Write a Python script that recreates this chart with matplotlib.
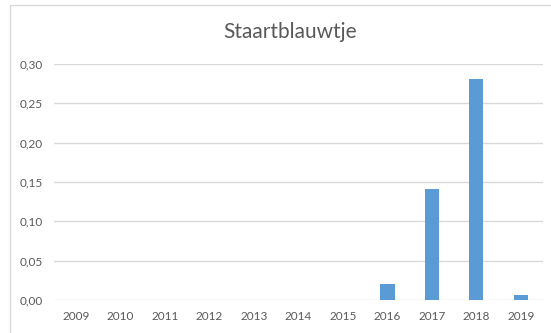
import matplotlib
matplotlib.use("Agg")
import matplotlib.pyplot as plt
from matplotlib.patches import Rectangle

years = ["2009", "2010", "2011", "2012", "2013", "2014", "2015", "2016", "2017", "2018", "2019"]
values = [0, 0, 0, 0, 0, 0, 0, 0.02, 0.141, 0.281, 0.006]
yticks = [0.00, 0.05, 0.10, 0.15, 0.20, 0.25, 0.30]
ytick_labels = ["0,00", "0,05", "0,10", "0,15", "0,20", "0,25", "0,30"]
title = "Staartblauwtje"

plt.rcParams['font.family'] = ['Lato', 'DejaVu Sans']
fig = plt.figure(figsize=(5.51, 3.33), dpi=100)
fig.patches.append(Rectangle((10/551, -0.01), 1.2, 1 - 5/333 + 0.01, transform=fig.transFigure,
                             fill=False, edgecolor="#D9D9D9", linewidth=1))
ax = fig.add_axes([54/551, 1 - 300/333, (543 - 54)/551, (300 - 64)/333])
x = range(len(years))
ax.bar(x, values, width=0.32, color="#5B9BD5", zorder=3)
ax.set_xlim(-0.5, len(years) - 0.5)
ax.set_ylim(0, 0.30)
ax.set_yticks(yticks)
ax.set_yticklabels(ytick_labels)
ax.set_xticks(list(x))
ax.set_xticklabels(years)
ax.grid(axis="y", color="#D9D9D9", linewidth=1, zorder=0)
for s in ax.spines.values():
    s.set_visible(False)
ax.tick_params(length=0, labelsize=8.5, colors="#595959", pad=8)
ax.tick_params(axis="y", pad=8)
fig.text(290/551, 1 - 32/333, title, ha="center", va="center", fontsize=15, color="#595959")
fig.savefig("out.png", dpi=100)
